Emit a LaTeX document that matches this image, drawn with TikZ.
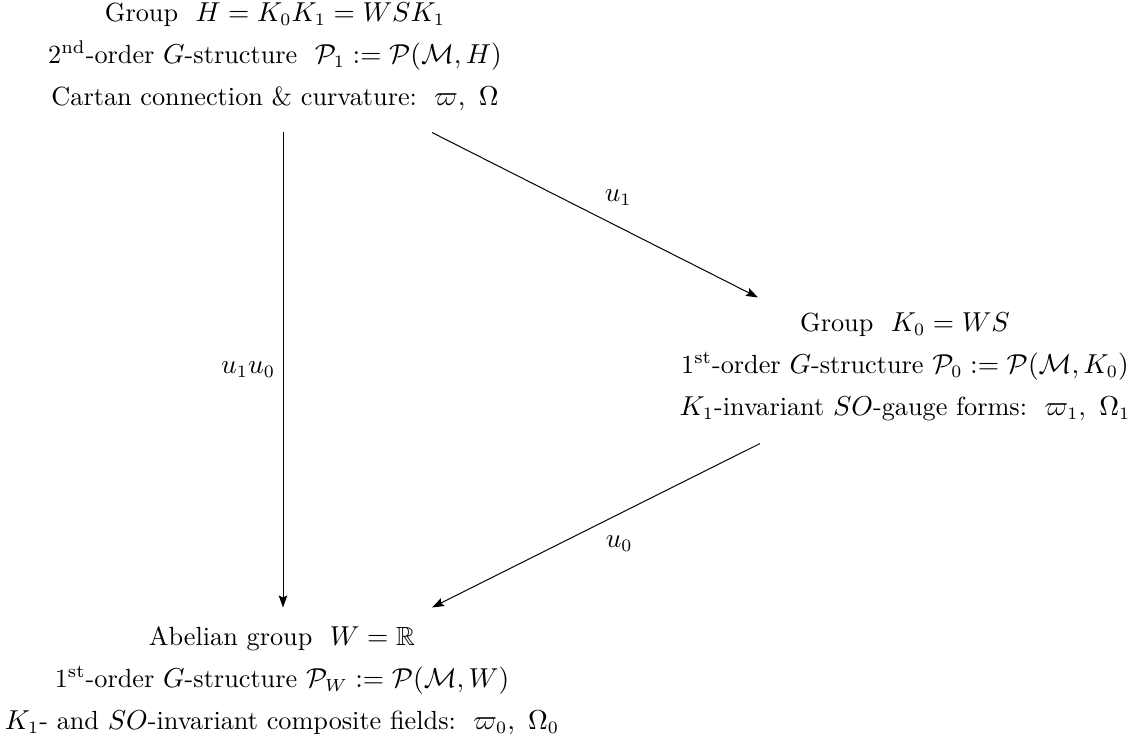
\documentclass[tikz,border=0pt]{standalone}
\usepackage{amssymb}
\usetikzlibrary{positioning, arrows.meta}

\begin{document}
\begin{tikzpicture}[
	x=1pt, y=1pt,
	node distance = 200pt,
	every node/.style = {
		align=center,
		font=\fontsize{10.5}{16.8}\selectfont,
		inner sep=3pt
	},
	flecha/.style = {-{Stealth[length=4.8pt, width=3.4pt, inset=0.8pt]}, line width=0.4pt}
	]
	\useasboundingbox (0,0) rectangle (456,-297.2);

	\node (orden2) at (110,-22.8)
	{Group\ \ $H=K_0K_1=WSK_1$\\
	 2\textsuperscript{nd}-order $G$-structure\ \ $\mathcal{P}_1 := \mathcal{P}(\mathcal{M},H)$\\
	 Cartan connection \& curvature:\ \ $\varpi,\ \Omega$};
	\node[below=200pt of orden2, xshift=2.8pt] (abel)
	{Abelian group\ \ $W=\mathbb{R}$\\
	 1\textsuperscript{st}-order $G$-structure $\mathcal{P}_W := \mathcal{P}(\mathcal{M},W)$\\
	 $K_1$- and $SO$-invariant composite fields:\ \ $\varpi_0,\ \Omega_0$};
	\node (orden1) at (362,-146.8)
	{Group\ \ $K_0=WS$\\
	 1\textsuperscript{st}-order $G$-structure $\mathcal{P}_0 := \mathcal{P}(\mathcal{M},K_0)$\\
	 $K_1$-invariant $SO$-gauge forms:\ \ $\varpi_1,\ \Omega_1$};

	\draw[flecha] ([shift={(3.2pt,-5pt)}]orden2.south) -- node[left] {$u_1u_0$} ([shift={(0.4pt,4.6pt)}]abel.north);
	\draw[flecha] ([shift={(62.8pt,-5.4pt)}]orden2.south) -- node[above right=1pt] {$u_1$} ([shift={(-58.8pt,3pt)}]orden1.north);
	\draw[flecha] ([shift={(-58pt,-5.8pt)}]orden1.south) -- node[below right=1pt] {$u_0$} ([shift={(60pt,4.6pt)}]abel.north);

\end{tikzpicture}
\end{document}
